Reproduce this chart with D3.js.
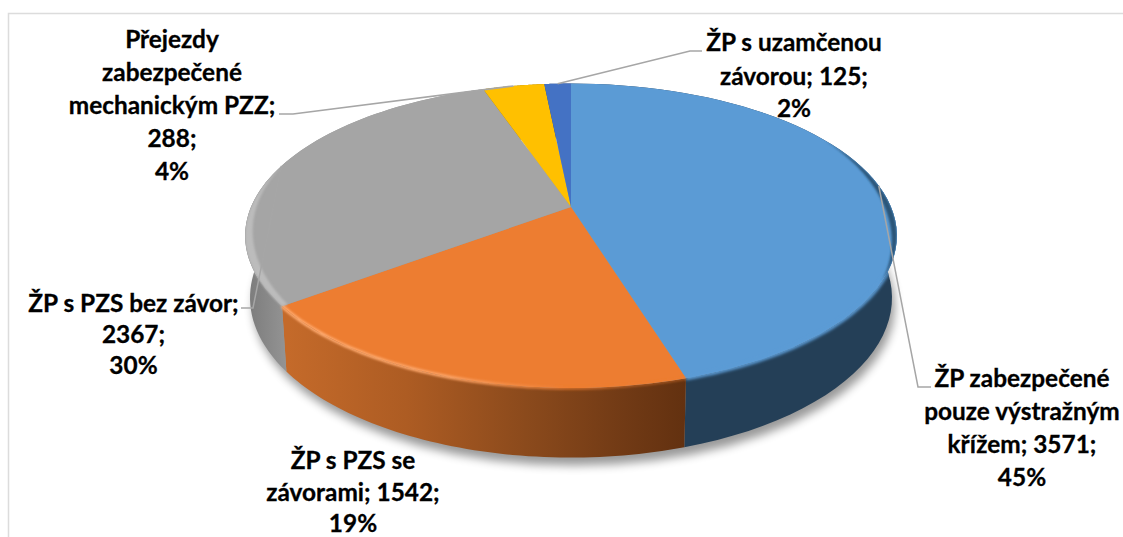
<!DOCTYPE html>
<html>
<head>
<meta charset="utf-8">
<title>Přejezdy</title>
<style>
	html, body { margin: 0; padding: 0; background: #fff; overflow: hidden; }
	.lbl text { font: bold 24.4px Lato, sans-serif; fill: #000; stroke: #000; stroke-width: 0.3; text-anchor: middle; }
	.leader { fill: none; stroke: #a6a6a6; stroke-width: 1.5; }
</style>
<script src="https://d3js.org/d3.v7.min.js"></script>
</head>
<body>
<svg id="chart" width="1123" height="537"></svg>
<script>
var categories = ["ŽP zabezpečené pouze výstražným křížem", "ŽP s PZS se závorami", "ŽP s PZS bez závor", "Přejezdy zabezpečené mechanickým PZZ", "ŽP s uzamčenou závorou"];
var values = [3571, 1542, 2367, 288, 125];
var percents = [45, 19, 30, 4, 2];
var topColors = ["#5b9bd5", "#ed7d31", "#a5a5a5", "#ffc000", "#4472c4"];

// label text broken the way the picture breaks it
var labelLines = [
	["ŽP zabezpečené", "pouze výstražným", "křížem; 3571;", "45%"],
	["ŽP s PZS se", "závorami; 1542;", "19%"],
	["ŽP s PZS bez závor;", "2367;", "30%"],
	["Přejezdy", "zabezpečené", "mechanickým PZZ;", "288;", "4%"],
	["ŽP s uzamčenou", "závorou; 125;", "2%"]
];
var labelX = [1022, 353, 133.5, 172, 794];
var labelY = [[387, 420, 453, 486], [469, 501, 531.5], [312, 343, 374], [48, 81, 114, 147, 180], [51, 85, 117]];
// elbow of each leader, null = no leader
var leaderEnds = [[[918, 387], [931, 387]], null, [[253, 308], [241, 308]], [[293, 114], [279, 114]], [[690, 51], [702, 51]]];

var svg = d3.select("#chart");
var defs = svg.append("defs");

// frame of the chart area
svg.append("path").attr("d", "M8.5,537V13.5H1123").attr("fill", "none").attr("stroke", "#dcdcdc").attr("stroke-width", 1.5);

// tilted disc: homography of unit circle, hub is off centre like in the picture
var hub = {x: 571, y: 207}, A = 320, B = 146.8, k = 0.189;
function discPt(t, inset) {
	var r = 1 - inset;
	var u = Math.sin(t) * r, v = Math.cos(t) * r, w = 1 + k * v;
	return [hub.x + A * u / w, hub.y - B * v / w];
}
function topAt(t) { return discPt(t, 0); }
function bottomAt(t) {
	var p = topAt(t);
	return [hub.x + (p[0] - hub.x) * 0.985, p[1] + 62 + (p[1] - 237) * 0.05];
}
function samples(a0, a1) {
	return d3.range(0, 61).map(function(i) { return a0 + (a1 - a0) * i / 60; });
}
var line = d3.line();

var arcs = d3.pie().sort(null).startAngle(0).endAngle(2 * Math.PI)(values);
var full = samples(0, 2 * Math.PI);

// blur filters
[["soft", 5], ["b1", 1.1], ["b2", 1.8]].forEach(function(f) {
	defs.append("filter").attr("id", f[0]).attr("filterUnits", "userSpaceOnUse")
		.attr("x", 0).attr("y", 0).attr("width", 1123).attr("height", 537)
		.append("feGaussianBlur").attr("stdDeviation", f[1]);
});

// side gradients
function gradient(id, x1, x2, stops) {
	var g = defs.append("linearGradient").attr("id", id).attr("gradientUnits", "userSpaceOnUse")
		.attr("x1", x1).attr("x2", x2).attr("y1", 0).attr("y2", 0);
	stops.forEach(function(s) {
		g.append("stop").attr("offset", s[0]).attr("stop-color", s[1]).attr("stop-opacity", s[2] === undefined ? 1 : s[2]);
	});
}
gradient("sideOrange", 288, 684, [[0, "#c46a2a"], [0.3, "#ad5c23"], [0.6, "#8b4a1c"], [0.85, "#713a15"], [1, "#633110"]]);
gradient("sideGray", 248, 290, [[0, "#7c7c7c"], [1, "#969696"]]);
gradient("rimOrange", 284, 640, [[0, "#ffab70"], [0.45, "#fba468"], [0.8, "#ed7d31", 0.7], [1, "#ed7d31", 0.4]]);
var sideFill = ["#243f57", "url(#sideOrange)", "url(#sideGray)", "#997300", "#2a4476"];

// silhouette for keeping the blurred rim inside
var walls = arcs.map(function(a) {
	var ts = samples(a.startAngle, a.endAngle);
	return ts.map(topAt).concat(ts.slice().reverse().map(bottomAt));
});
defs.append("clipPath").attr("id", "disc").selectAll("path")
	.data(walls.concat([full.map(topAt)]))
	.enter().append("path").attr("d", function(d) { return line(d) + "Z"; });

// shadow
svg.append("path").attr("d", line(full.map(bottomAt)) + "Z")
	.attr("transform", "translate(3,8)").attr("fill", "#000").attr("opacity", 0.4).attr("filter", "url(#soft)");

// walls
svg.append("g").selectAll("path").data(walls).enter().append("path")
	.attr("d", function(d) { return line(d) + "Z"; })
	.attr("fill", function(d, i) { return sideFill[i]; });

// top surface
svg.append("g").selectAll("path").data(arcs).enter().append("path")
	.attr("d", function(a) {
		var ts = samples(a.startAngle, a.endAngle);
		return line([[hub.x, hub.y]].concat(ts.map(topAt))) + "Z";
	})
	.attr("fill", function(d, i) { return topColors[i]; });

// rim: bevel effects, all clipped to the disc
var rim = svg.append("g").attr("clip-path", "url(#disc)");
function rimStroke(a0, a1, colour, width, filter) {
	rim.append("path").attr("d", line(samples(a0, a1).map(topAt)))
		.attr("fill", "none").attr("stroke", colour).attr("stroke-width", width).attr("filter", "url(#" + filter + ")");
}
function crescent(a0, a1, depth, colour, lead) {
	var ts = samples(a0, a1), off = lead || 0;
	var inner = ts.slice().reverse().map(function(t) {
		return discPt(t, depth * Math.sin(Math.PI * (t - a0 + off) / (a1 - a0 + off)));
	});
	rim.append("path").attr("d", line(ts.map(topAt).concat(inner)) + "Z")
		.attr("fill", colour).attr("filter", "url(#b1)");
}
var rad = Math.PI / 180;
// blue: soft edge along the front, dark band on the far right
rimStroke(arcs[0].startAngle + 75 * rad, arcs[0].endAngle, "#5b9bd5", 4, "b2");
crescent(arcs[0].startAngle + 60 * rad, arcs[0].startAngle + 118 * rad, 0.02, "#2b5478");
// orange: light line along the front
rimStroke(arcs[1].startAngle, arcs[1].endAngle, "url(#rimOrange)", 3.5, "b1");
// gray: light band on the left edge, open towards the orange slice
crescent(arcs[2].startAngle, arcs[2].startAngle + 55 * rad, 0.024, "#bcbcbc", 18 * rad);

// leaders go from the middle of each slice to the label
var mids = arcs.map(function(a) { return topAt((a.startAngle + a.endAngle) / 2); });
svg.append("g").selectAll("path").data(d3.range(values.length).filter(function(i) { return leaderEnds[i]; }))
	.enter().append("path").attr("class", "leader")
	.attr("d", function(i) { return line([mids[i]].concat(leaderEnds[i])); });

// labels
var lbl = svg.append("g").attr("class", "lbl");
labelLines.forEach(function(lines, i) {
	lines.forEach(function(s, j) {
		lbl.append("text").attr("x", labelX[i]).attr("y", labelY[i][j]).text(s);
	});
});
</script>
</body>
</html>
